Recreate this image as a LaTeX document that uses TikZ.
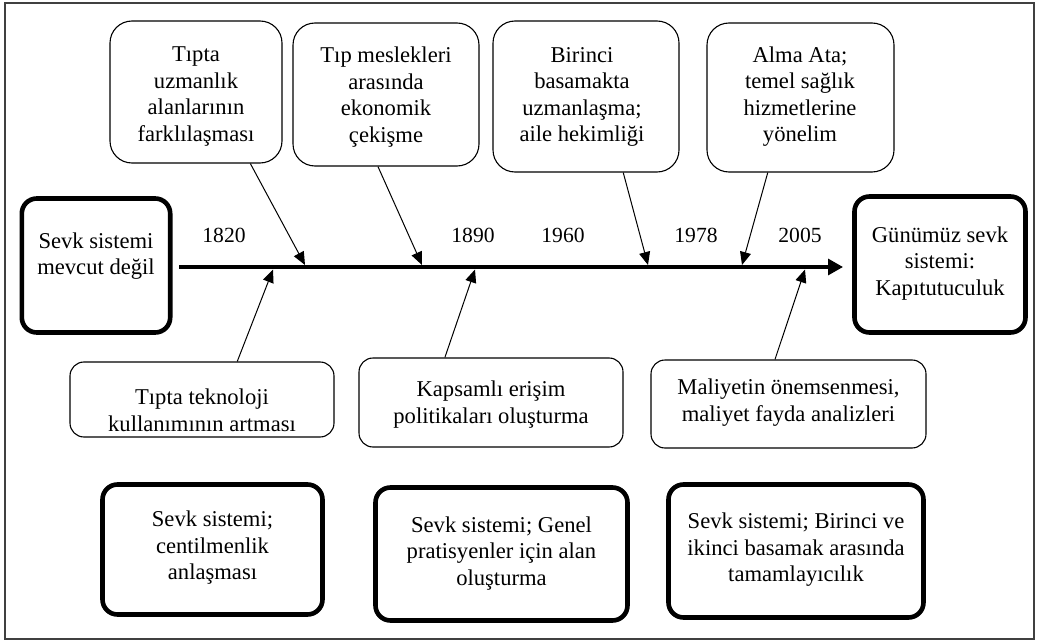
\documentclass[tikz,border=0pt]{standalone}
\usepackage{fontspec}
\setmainfont{Liberation Serif}
\usetikzlibrary{arrows.meta,calc}
\begin{document}
\begin{tikzpicture}[x=1pt,y=-1pt,
  thinbox/.style={draw, line width=1.1pt, rounded corners=22pt, inner sep=0pt},
  lowbox/.style={draw, line width=1.1pt, rounded corners=14pt, inner sep=0pt},
  thickbox/.style={draw, line width=4.6pt, rounded corners=15pt, inner sep=0pt},
  txt/.style={align=center, inner sep=0pt, font=\fontsize{22.6}{26.5}\selectfont},
  year/.style={inner sep=0pt, anchor=base, font=\fontsize{21.6}{26}\selectfont},
  cause/.style={line width=1pt, -{Triangle[length=13pt,width=11pt]}},
  axis/.style={line width=3.3pt, -{Triangle[length=15pt,width=16pt]}}
]
\useasboundingbox (0,0) rectangle (1037,642);
\draw[line width=1.3pt, black!75] (5,3) rectangle (1034,639);

% top boxes
\node[thinbox, minimum width=172pt, minimum height=142pt] (t1) at (196,92) {};
\node[thinbox, minimum width=186pt, minimum height=143pt] (t2) at (386,94.5) {};
\node[thinbox, minimum width=186pt, minimum height=151pt] (t3) at (586,96.5) {};
\node[thinbox, minimum width=187pt, minimum height=149pt] (t4) at (800.5,97.5) {};
\node[txt] (t1x) at (196,96.2) {\strut Tıpta\\uzmanlık\\alanlarının\\farklılaşması\strut};
\node[txt] (t2x) at (386,97.2) {\strut Tıp meslekleri\\arasında\\ekonomik\\çekişme\strut};
\node[txt] (t3x) at (582,96.7) {\strut Birinci\\basamakta\\uzmanlaşma;\\aile hekimliği\strut};
\node[txt] (t4x) at (800,96.7) {\strut Alma Ata;\\temel sağlık\\hizmetlerine\\yönelim\strut};

% start / end boxes
\node[thickbox, minimum width=148.4pt, minimum height=134pt] (lb) at (96,265.5) {};
\node[txt] (lbx) at (96,256.2) {\strut Sevk sistemi\\mevcut değil\strut};
\node[thickbox, minimum width=171pt, minimum height=136pt] (rb) at (940,264.5) {};
\node[txt] (rbx) at (940,263.2) {\strut Günümüz sevk\\sistemi:\\Kapıtutuculuk\strut};

% lower thin boxes
\node[lowbox, minimum width=264pt, minimum height=75pt] (l1) at (202,399.5) {};
\node[lowbox, minimum width=264pt, minimum height=89pt] (l2) at (491,402.5) {};
\node[lowbox, minimum width=275pt, minimum height=88pt] (l3) at (788.5,404) {};
\node[txt] (l1x) at (202,412.7) {\strut Tıpta teknoloji\\kullanımının artması\strut};
\node[txt] (l2x) at (491,404.7) {\strut Kapsamlı erişim\\politikaları oluşturma\strut};
\node[txt] (l3x) at (788.5,402.7) {\strut Maliyetin önemsenmesi,\\maliyet fayda analizleri\strut};

% bottom thick boxes
\node[thickbox, minimum width=220pt, minimum height=130pt] (b1) at (212.5,549.5) {};
\node[thickbox, minimum width=252pt, minimum height=133pt] (b2) at (501.5,554) {};
\node[thickbox, minimum width=255pt, minimum height=133pt] (b3) at (796,551) {};
\node[txt] (b1x) at (212.5,547.7) {\strut Sevk sistemi;\\centilmenlik\\anlaşması\strut};
\node[txt] (b2x) at (501.5,553.2) {\strut Sevk sistemi; Genel\\pratisyenler için alan\\oluşturma\strut};
\node[txt] (b3x) at (796,549.7) {\strut Sevk sistemi; Birinci ve\\ikinci basamak arasında\\tamamlayıcılık\strut};

% years
\node[year] (y1) at (224,242) {1820};
\node[year] (y2) at (473,242) {1890};
\node[year] (y3) at (563,242) {1960};
\node[year] (y4) at (696,242) {1978};
\node[year] (y5) at (800,242) {2005};

% timeline
\coordinate (tlA) at (179,267);
\coordinate (tlB) at (843,267);
\draw[axis] (tlA) -- (tlB);

% arrow targets on the timeline
\coordinate (a1) at (305,265);
\coordinate (a2) at (422,265);
\coordinate (a3) at (648,265);
\coordinate (a4) at (742,265);
\coordinate (a5) at (273,269.5);
\coordinate (a6) at (475,269.5);
\coordinate (a7) at (805,269.5);

\draw[cause] ($(t1.south west)!0.814!(t1.south east)$) -- (a1);
\draw[cause] ($(t2.south west)!0.457!(t2.south east)$) -- (a2);
\draw[cause] ($(t3.south west)!0.699!(t3.south east)$) -- (a3);
\draw[cause] ($(t4.south west)!0.326!(t4.south east)$) -- (a4);
\draw[cause] ($(l1.north west)!0.633!(l1.north east)$) -- (a5);
\draw[cause] ($(l2.north west)!0.326!(l2.north east)$) -- (a6);
\draw[cause] ($(l3.north west)!0.451!(l3.north east)$) -- (a7);
\end{tikzpicture}
\end{document}
